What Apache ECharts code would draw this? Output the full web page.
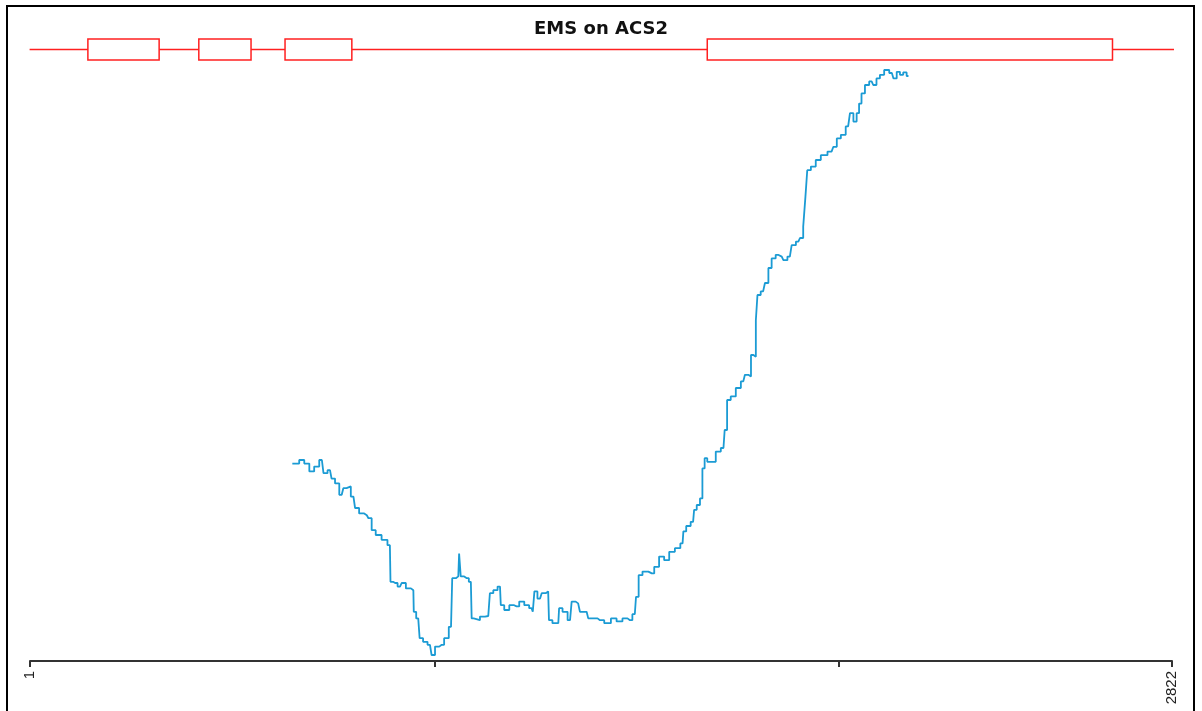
<!DOCTYPE html>
<html>
<head>
<meta charset="utf-8">
<title>EMS on ACS2</title>
<script src="https://cdn.jsdelivr.net/npm/echarts@6/dist/echarts.min.js"></script>
<style>
  html, body { margin: 0; padding: 0; background: #fff; }
  #main { width: 1202px; height: 711px; }
</style>
</head>
<body>
<div id="main"></div>
<script>
// gene model (exons as boxes, intron line across)
const geneSpan = [0, 2829];
const exonStart = [144, 418, 631, 1674];
const exonEnd = [320, 547, 796, 2675];

// x axis
const axisMin = 1;
const axisMax = 2822;
const tickValues = [1, 1000, 2000, 2822];
const labelValues = [1, 2822];

// EMS trace (position, score)
const emsPos = [
  649, 660, 672, 685, 697, 709, 722, 730, 742, 750, 759, 771, 779, 787, 800, 808,
  820, 833, 841, 849, 861, 878, 890, 893, 903, 915, 923, 936, 948, 950, 960, 967,
  977, 989, 997, 1006, 1018, 1030, 1041, 1047, 1059, 1063, 1067, 1080, 1090, 1094, 1100, 1125,
  1133, 1141, 1150, 1162, 1166, 1179, 1191, 1203, 1216, 1228, 1240, 1246, 1248, 1261, 1269, 1281,
  1285, 1298, 1306, 1310, 1323, 1335, 1343, 1355, 1364, 1376, 1384, 1397, 1409, 1430, 1442, 1458,
  1471, 1483, 1495, 1501, 1508, 1520, 1537, 1549, 1561, 1574, 1586, 1602, 1613, 1617, 1627, 1639,
  1644, 1652, 1660, 1664, 1671, 1677, 1689, 1701, 1714, 1720, 1726, 1738, 1751, 1763, 1771, 1780,
  1784, 1792, 1796, 1800, 1812, 1821, 1829, 1837, 1849, 1858, 1866, 1878, 1887, 1899, 1907, 1915,
  1918, 1924, 1936, 1948, 1961, 1981, 1990, 1998, 2010, 2022, 2031, 2039, 2047, 2051, 2059, 2068,
  2080, 2088, 2096, 2105, 2117, 2130, 2138, 2146, 2154, 2162, 2171
];
const emsScore = [
  32.9, 32.9, 33.5, 32.9, 31.6, 32.4, 33.5, 31.3, 31.8, 30.4, 29.6, 27.7, 28.8, 29.1, 27.4, 25.5,
  24.6, 24.3, 23.8, 21.8, 21.0, 20.2, 19.3, 13.2, 13.0, 12.4, 13.0, 12.1, 11.8, 8.2, 7.1, 3.8,
  3.2, 2.7, 1.0, 2.4, 2.7, 3.8, 5.7, 13.8, 14.1, 17.9, 14.1, 13.8, 13.2, 7.1, 6.8, 7.4,
  7.5, 11.3, 11.8, 12.4, 9.3, 8.5, 9.3, 9.1, 9.9, 9.3, 8.8, 8.2, 11.6, 10.4, 11.3, 11.6,
  6.8, 6.3, 6.3, 8.8, 8.2, 6.8, 9.9, 9.6, 8.2, 8.2, 7.1, 7.1, 6.8, 6.3, 7.1, 6.6,
  7.1, 6.8, 7.8, 10.7, 14.3, 14.9, 14.6, 15.7, 17.4, 16.8, 18.2, 18.8, 19.6, 21.6, 22.5, 23.2,
  25.2, 26.0, 27.1, 32.1, 33.8, 33.2, 33.2, 34.9, 35.5, 38.5, 43.5, 44.1, 45.5, 46.6, 47.7, 47.4,
  51.0, 50.7, 56.8, 61.0, 61.6, 63.0, 65.5, 67.1, 67.7, 67.4, 66.8, 67.4, 69.3, 69.9, 70.5, 72.4,
  77.4, 81.8, 82.4, 83.5, 84.3, 84.9, 85.7, 87.1, 87.7, 89.1, 91.3, 89.9, 91.3, 92.9, 94.6, 96.0,
  96.6, 96.0, 97.1, 97.7, 98.5, 98.0, 97.1, 98.2, 97.7, 98.1, 97.5
];

const chart = echarts.init(document.getElementById('main'));

const exonData = exonStart.map((s, i) => [s, exonEnd[i]]);

chart.setOption({
  animation: false,
  backgroundColor: '#fff',
  title: {
    text: 'EMS on ACS2',
    left: 'center',
    top: 15,
    textStyle: {
      fontFamily: 'DejaVu Sans',
      fontWeight: 'bold',
      fontSize: 18,
      color: '#111'
    }
  },
  graphic: [{
    type: 'rect',
    shape: { x: 7, y: 6, width: 1187, height: 720 },
    style: { fill: null, stroke: '#000', lineWidth: 2 },
    silent: true
  }],
  grid: [
    { left: 30, right: 30, top: 61, bottom: 50 },
    { left: 30, right: 30, top: 39, height: 21 }
  ],
  xAxis: [{
    type: 'value',
    gridIndex: 0,
    min: axisMin,
    max: axisMax,
    splitLine: { show: false },
    axisLine: { lineStyle: { color: '#333', width: 2 } },
    axisTick: {
      customValues: tickValues,
      length: 6,
      lineStyle: { color: '#333', width: 2 }
    },
    axisLabel: {
      customValues: labelValues,
      formatter: v => String(v),
      rotate: 90,
      margin: 10,
      fontFamily: 'Liberation Sans',
      fontSize: 15,
      color: '#222'
    }
  }, {
    type: 'value',
    gridIndex: 1,
    min: axisMin,
    max: axisMax,
    show: false
  }],
  yAxis: [{
    type: 'value',
    gridIndex: 0,
    min: 0,
    max: 100,
    show: false
  }, {
    type: 'value',
    gridIndex: 1,
    min: 0,
    max: 1,
    show: false
  }],
  series: [{
    type: 'line',
    xAxisIndex: 1,
    yAxisIndex: 1,
    data: [[geneSpan[0], 0.5], [geneSpan[1], 0.5]],
    clip: false,
    symbol: 'none',
    lineStyle: { color: '#ff2020', width: 1.5 },
    z: 2
  }, {
    type: 'custom',
    xAxisIndex: 1,
    yAxisIndex: 1,
    data: exonData,
    clip: false,
    z: 3,
    renderItem: (params, api) => {
      const p0 = api.coord([api.value(0), 1]);
      const p1 = api.coord([api.value(1), 0]);
      return {
        type: 'rect',
        shape: { x: p0[0], y: p0[1], width: p1[0] - p0[0], height: p1[1] - p0[1] },
        style: { fill: '#fff', stroke: '#ff2020', lineWidth: 1.5 }
      };
    }
  }, {
    type: 'line',
    xAxisIndex: 0,
    yAxisIndex: 0,
    step: 'middle',
    symbol: 'none',
    data: emsPos.map((x, i) => [x, emsScore[i]]),
    lineStyle: { color: '#1b9bd4', width: 1.8 }
  }]
});
</script>
</body>
</html>
